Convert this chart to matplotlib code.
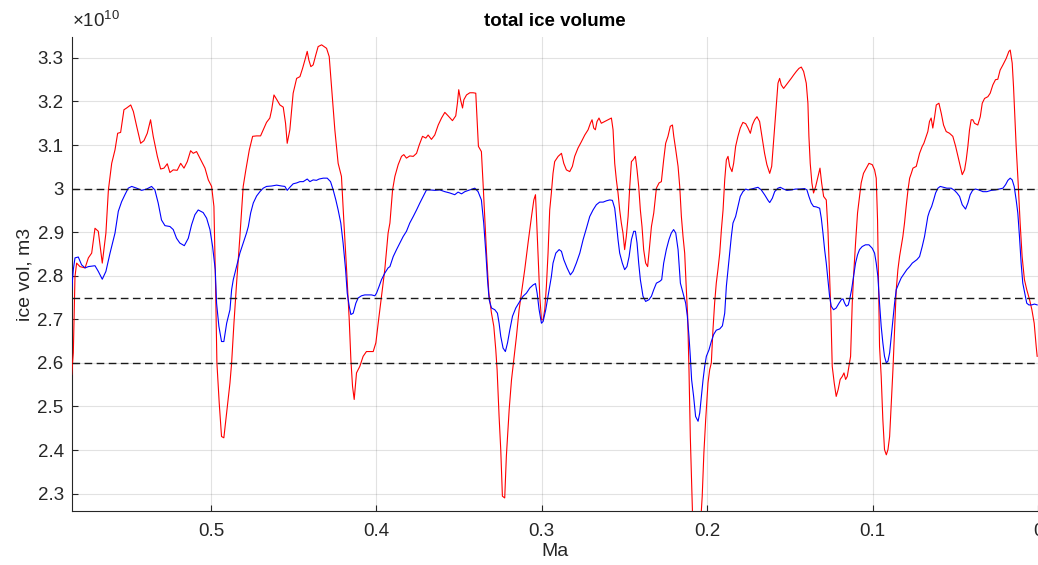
import matplotlib
matplotlib.use("Agg")
import matplotlib.pyplot as plt
from matplotlib.ticker import FuncFormatter

plt.rcParams['font.family'] = ['Liberation Sans', 'DejaVu Sans']
plt.rcParams['mathtext.fontset'] = 'custom'
plt.rcParams['mathtext.rm'] = 'Liberation Sans'

# ---- data (age in Ma, ice volume in units of 1e10 m3) ----
red_age = [0.5842, 0.5832, 0.5822, 0.5812, 0.5792, 0.5761, 0.5741, 0.5721, 0.5701, 0.5681,
           0.5657, 0.5635, 0.5620, 0.5600, 0.5580, 0.5564, 0.5546, 0.5526, 0.5510, 0.5485,
           0.5469, 0.5449, 0.5425, 0.5405, 0.5385, 0.5365, 0.5349, 0.5324, 0.5304, 0.5284,
           0.5264, 0.5248, 0.5228, 0.5204, 0.5183, 0.5163, 0.5143, 0.5123, 0.5107, 0.5087,
           0.5056, 0.5036, 0.5016, 0.4996, 0.4982, 0.4972, 0.4964, 0.4950, 0.4936, 0.4922,
           0.4905,
           0.4885, 0.4875, 0.4861, 0.4845, 0.4825, 0.4805, 0.4789, 0.4768, 0.4748, 0.4724,
           0.4700, 0.4684, 0.4664, 0.4644, 0.4633, 0.4619, 0.4603, 0.4583, 0.4563, 0.4549,
           0.4539, 0.4523, 0.4503, 0.4482, 0.4462, 0.4446, 0.4432, 0.4418, 0.4408, 0.4396,
           0.4382, 0.4366, 0.4352, 0.4331, 0.4301, 0.4285, 0.4271, 0.4251, 0.4231, 0.4211,
           0.4196, 0.4180, 0.4164, 0.4154, 0.4144, 0.4134, 0.4120, 0.4100, 0.4080, 0.4060,
           0.4039, 0.4019, 0.4003, 0.3989, 0.3969, 0.3949, 0.3929,
           0.3918, 0.3902, 0.3888, 0.3868, 0.3848, 0.3834, 0.3818, 0.3798, 0.3777, 0.3757,
           0.3741, 0.3721, 0.3701, 0.3687, 0.3667, 0.3647, 0.3626, 0.3606, 0.3586, 0.3566,
           0.3540, 0.3520, 0.3510, 0.3502, 0.3491, 0.3479, 0.3471, 0.3455, 0.3435, 0.3415,
           0.3399, 0.3391, 0.3383, 0.3365, 0.3355, 0.3344, 0.3334, 0.3320, 0.3304, 0.3290,
           0.3278, 0.3270, 0.3258, 0.3248, 0.3238, 0.3224, 0.3214, 0.3197, 0.3183, 0.3169,
           0.3153, 0.3137, 0.3123, 0.3103, 0.3083, 0.3062, 0.3048, 0.3038, 0.3032, 0.3022,
           0.3012, 0.3002, 0.2992, 0.2982, 0.2972, 0.2962, 0.2952,
           0.2942, 0.2932, 0.2922, 0.2901, 0.2881, 0.2867, 0.2851, 0.2831, 0.2815, 0.2801,
           0.2781, 0.2760, 0.2740, 0.2720, 0.2706, 0.2696, 0.2686, 0.2676, 0.2666, 0.2654,
           0.2640, 0.2620, 0.2599, 0.2579, 0.2569, 0.2559, 0.2549, 0.2539, 0.2529, 0.2519,
           0.2509, 0.2499, 0.2489, 0.2478, 0.2468, 0.2458, 0.2448, 0.2434, 0.2424, 0.2414,
           0.2404, 0.2394, 0.2384, 0.2372, 0.2360, 0.2352, 0.2337, 0.2323, 0.2307, 0.2291,
           0.2277, 0.2263, 0.2251, 0.2237, 0.2223, 0.2210, 0.2202, 0.2190, 0.2176, 0.2166,
           0.2156, 0.2146, 0.2136, 0.2126, 0.2118, 0.2110, 0.2102, 0.2094, 0.2086, 0.2062,
           0.2042, 0.2030, 0.2020, 0.2009, 0.1995, 0.1985,
           0.1975, 0.1965, 0.1955, 0.1945, 0.1935, 0.1924, 0.1914, 0.1904, 0.1894, 0.1884,
           0.1874, 0.1864, 0.1850, 0.1840, 0.1828, 0.1814, 0.1800, 0.1784, 0.1767, 0.1753,
           0.1739, 0.1727, 0.1713, 0.1699, 0.1683, 0.1669, 0.1653, 0.1639, 0.1622, 0.1610,
           0.1598, 0.1586, 0.1572, 0.1562, 0.1552, 0.1538, 0.1522, 0.1506, 0.1492, 0.1477,
           0.1461, 0.1445, 0.1431, 0.1417, 0.1401, 0.1391, 0.1385, 0.1377, 0.1367, 0.1357,
           0.1344, 0.1330, 0.1318, 0.1308, 0.1296, 0.1280, 0.1270, 0.1260, 0.1252, 0.1244,
           0.1232, 0.1220, 0.1208, 0.1196, 0.1183, 0.1173, 0.1163, 0.1153, 0.1143, 0.1133,
           0.1123, 0.1115, 0.1103, 0.1091, 0.1079, 0.1069, 0.1055, 0.1038, 0.1022,
           0.1002, 0.0988, 0.0978, 0.0970, 0.0964, 0.0958, 0.0948, 0.0938, 0.0928, 0.0917,
           0.0907, 0.0897, 0.0887, 0.0877, 0.0867, 0.0857, 0.0847, 0.0837, 0.0827, 0.0817,
           0.0807, 0.0797, 0.0786, 0.0776, 0.0766, 0.0756, 0.0736, 0.0726, 0.0716, 0.0700,
           0.0690, 0.0676, 0.0666, 0.0656, 0.0646, 0.0636, 0.0625, 0.0615, 0.0599, 0.0585,
           0.0571, 0.0555, 0.0535, 0.0515, 0.0498, 0.0484, 0.0470, 0.0458, 0.0444, 0.0434,
           0.0424, 0.0414, 0.0404, 0.0394, 0.0384, 0.0364, 0.0349, 0.0337, 0.0323, 0.0303,
           0.0289, 0.0273, 0.0257, 0.0243, 0.0229, 0.0212, 0.0192, 0.0176, 0.0168, 0.0156,
           0.0148, 0.0140, 0.0132, 0.0120, 0.0108, 0.0096, 0.0082, 0.0068, 0.0051, 0.0037,
           0.0023, 0.0011, 0.0005]
red_vol = [2.573, 2.623, 2.798, 2.829, 2.821, 2.818, 2.841, 2.852, 2.909, 2.902,
           2.829, 2.898, 2.997, 3.058, 3.089, 3.127, 3.129, 3.181, 3.185, 3.192,
           3.177, 3.143, 3.104, 3.110, 3.127, 3.158, 3.120, 3.074, 3.045, 3.047,
           3.057, 3.037, 3.043, 3.042, 3.058, 3.047, 3.062, 3.087, 3.081, 3.085,
           3.062, 3.047, 3.020, 3.005, 2.959, 2.776, 2.600, 2.508, 2.431, 2.428,
           2.485,
           2.554, 2.600, 2.691, 2.783, 2.890, 3.005, 3.043, 3.089, 3.120, 3.121,
           3.121, 3.135, 3.152, 3.162, 3.181, 3.215, 3.205, 3.192, 3.187, 3.150,
           3.104, 3.135, 3.219, 3.253, 3.257, 3.276, 3.295, 3.315, 3.295, 3.280,
           3.284, 3.307, 3.326, 3.330, 3.322, 3.303, 3.234, 3.135, 3.058, 3.028,
           2.921, 2.814, 2.699, 2.607, 2.546, 2.516, 2.577, 2.592, 2.615, 2.626,
           2.626, 2.626, 2.646, 2.691, 2.753, 2.814, 2.898,
           2.921, 2.997, 3.028, 3.055, 3.074, 3.078, 3.070, 3.075, 3.074, 3.081,
           3.100, 3.120, 3.116, 3.123, 3.113, 3.123, 3.146, 3.162, 3.175, 3.167,
           3.156, 3.167, 3.196, 3.227, 3.204, 3.185, 3.204, 3.215, 3.220, 3.220,
           3.219, 3.158, 3.097, 3.085, 3.013, 2.928, 2.852, 2.760, 2.714, 2.684,
           2.630, 2.584, 2.477, 2.401, 2.294, 2.290, 2.386, 2.493, 2.561, 2.607,
           2.661, 2.722, 2.760, 2.814, 2.875, 2.936, 2.974, 2.986, 2.936, 2.844,
           2.753, 2.699, 2.699, 2.722, 2.776, 2.852, 2.951,
           2.990, 3.035, 3.062, 3.074, 3.081, 3.058, 3.043, 3.039, 3.051, 3.074,
           3.093, 3.108, 3.123, 3.135, 3.150, 3.158, 3.139, 3.135, 3.154, 3.162,
           3.150, 3.154, 3.158, 3.162, 3.135, 3.058, 3.020, 2.990, 2.951, 2.921,
           2.898, 2.860, 2.890, 2.936, 3.005, 3.062, 3.066, 3.074, 3.043, 3.005,
           2.951, 2.913, 2.860, 2.829, 2.821, 2.852, 2.913, 2.944, 3.001, 3.013,
           3.016, 3.066, 3.104, 3.120, 3.143, 3.146, 3.120, 3.089, 3.051, 3.005,
           2.936, 2.890, 2.852, 2.768, 2.707, 2.584, 2.431, 2.325, 2.218, 2.180,
           2.218, 2.294, 2.393, 2.470, 2.554, 2.584,
           2.600, 2.676, 2.737, 2.783, 2.814, 2.852, 2.906, 2.951, 3.020, 3.066,
           3.074, 3.051, 3.039, 3.058, 3.097, 3.120, 3.139, 3.152, 3.149, 3.139,
           3.127, 3.146, 3.158, 3.165, 3.154, 3.120, 3.081, 3.055, 3.035, 3.051,
           3.112, 3.173, 3.242, 3.253, 3.238, 3.230, 3.238, 3.246, 3.253, 3.261,
           3.269, 3.276, 3.279, 3.269, 3.242, 3.196, 3.120, 3.058, 3.013, 2.990,
           3.005, 3.028, 3.047, 3.013, 2.982, 2.974, 2.906, 2.799, 2.714, 2.592,
           2.554, 2.523, 2.539, 2.562, 2.569, 2.577, 2.562, 2.569, 2.592, 2.615,
           2.737, 2.799, 2.875, 2.944, 2.982, 3.013, 3.035, 3.047, 3.058,
           3.055, 3.043, 3.024, 2.928, 2.776, 2.638, 2.569, 2.470, 2.401, 2.389,
           2.401, 2.431, 2.508, 2.584, 2.676, 2.768, 2.814, 2.844, 2.867, 2.890,
           2.921, 2.959, 2.997, 3.024, 3.035, 3.047, 3.051, 3.066, 3.081, 3.097,
           3.104, 3.120, 3.131, 3.154, 3.162, 3.139, 3.165, 3.192, 3.196, 3.173,
           3.146, 3.131, 3.127, 3.120, 3.097, 3.074, 3.051, 3.032, 3.043, 3.066,
           3.097, 3.135, 3.158, 3.158, 3.150, 3.146, 3.165, 3.196, 3.207, 3.211,
           3.219, 3.238, 3.250, 3.251, 3.272, 3.284, 3.299, 3.315, 3.318, 3.288,
           3.234, 3.165, 3.097, 3.013, 2.921, 2.844, 2.791, 2.768, 2.745, 2.722,
           2.691, 2.638, 2.615]

blue_age = [0.5842, 0.5832, 0.5822, 0.5802, 0.5782, 0.5761, 0.5741, 0.5701, 0.5681, 0.5657,
            0.5635, 0.5610, 0.5580, 0.5560, 0.5540, 0.5520, 0.5500, 0.5479, 0.5449, 0.5419,
            0.5389, 0.5359, 0.5339, 0.5319, 0.5299, 0.5278, 0.5248, 0.5228, 0.5208, 0.5188,
            0.5161, 0.5137, 0.5117, 0.5097, 0.5077, 0.5047, 0.5026, 0.5006, 0.4990, 0.4974,
            0.4966, 0.4952, 0.4936, 0.4922, 0.4905,
            0.4885, 0.4875, 0.4865, 0.4845, 0.4825, 0.4805, 0.4785, 0.4774, 0.4760, 0.4744,
            0.4724, 0.4704, 0.4684, 0.4664, 0.4633, 0.4603, 0.4573, 0.4553, 0.4539, 0.4523,
            0.4503, 0.4482, 0.4462, 0.4442, 0.4418, 0.4402, 0.4382, 0.4362, 0.4346, 0.4321,
            0.4297, 0.4277, 0.4261, 0.4245, 0.4231, 0.4215, 0.4201, 0.4186, 0.4176, 0.4164,
            0.4154, 0.4140, 0.4124, 0.4110, 0.4090, 0.4070, 0.4049, 0.4029, 0.4009, 0.3999,
            0.3983, 0.3969, 0.3949, 0.3929,
            0.3918, 0.3898, 0.3878, 0.3858, 0.3838, 0.3818, 0.3798, 0.3777, 0.3757, 0.3737,
            0.3717, 0.3697, 0.3677, 0.3647, 0.3616, 0.3586, 0.3556, 0.3526, 0.3506, 0.3485,
            0.3465, 0.3435, 0.3405, 0.3385, 0.3365, 0.3351, 0.3338, 0.3328, 0.3318, 0.3304,
            0.3284, 0.3268, 0.3258, 0.3248, 0.3234, 0.3220, 0.3207, 0.3193, 0.3177, 0.3157,
            0.3133, 0.3113, 0.3093, 0.3072, 0.3052, 0.3038, 0.3028, 0.3016, 0.3002, 0.2992,
            0.2976, 0.2962, 0.2952,
            0.2942, 0.2932, 0.2915, 0.2895, 0.2881, 0.2867, 0.2847, 0.2827, 0.2811, 0.2791,
            0.2770, 0.2750, 0.2730, 0.2710, 0.2690, 0.2670, 0.2650, 0.2629, 0.2609, 0.2589,
            0.2573, 0.2559, 0.2549, 0.2539, 0.2529, 0.2513, 0.2499, 0.2485, 0.2472, 0.2458,
            0.2444, 0.2434, 0.2424, 0.2414, 0.2404, 0.2388, 0.2372, 0.2352, 0.2337, 0.2323,
            0.2307, 0.2287, 0.2275, 0.2263, 0.2247, 0.2231, 0.2217, 0.2203, 0.2190, 0.2176,
            0.2162, 0.2146, 0.2130, 0.2120, 0.2110, 0.2102, 0.2094, 0.2082, 0.2070, 0.2055,
            0.2045, 0.2035, 0.2025, 0.2015, 0.2005, 0.1989,
            0.1975, 0.1961, 0.1945, 0.1924, 0.1908, 0.1894, 0.1884, 0.1874, 0.1864, 0.1854,
            0.1844, 0.1828, 0.1814, 0.1800, 0.1784, 0.1767, 0.1753, 0.1733, 0.1713, 0.1693,
            0.1673, 0.1653, 0.1632, 0.1622, 0.1606, 0.1592, 0.1572, 0.1558, 0.1538, 0.1518,
            0.1492, 0.1465, 0.1441, 0.1411, 0.1397, 0.1385, 0.1371, 0.1357, 0.1340, 0.1320,
            0.1310, 0.1300, 0.1290, 0.1280, 0.1270, 0.1260, 0.1250, 0.1236, 0.1220, 0.1203,
            0.1189, 0.1179, 0.1169, 0.1159, 0.1147, 0.1139, 0.1127, 0.1115, 0.1103, 0.1091,
            0.1079, 0.1063, 0.1043, 0.1022,
            0.1002, 0.0988, 0.0978, 0.0968, 0.0958, 0.0948, 0.0938, 0.0928, 0.0917, 0.0907,
            0.0897, 0.0887, 0.0877, 0.0867, 0.0857, 0.0841, 0.0827, 0.0807, 0.0793, 0.0776,
            0.0760, 0.0746, 0.0732, 0.0716, 0.0700, 0.0686, 0.0676, 0.0666, 0.0656, 0.0643,
            0.0631, 0.0619, 0.0605, 0.0591, 0.0571, 0.0551, 0.0525, 0.0505, 0.0490, 0.0474,
            0.0458, 0.0438, 0.0424, 0.0410, 0.0394, 0.0378, 0.0358, 0.0333, 0.0309, 0.0283,
            0.0257, 0.0233, 0.0212, 0.0196, 0.0182, 0.0168, 0.0156, 0.0144, 0.0132, 0.0122,
            0.0112, 0.0102, 0.0092, 0.0080, 0.0068, 0.0055, 0.0039, 0.0021, 0.0005]
blue_vol = [2.768, 2.814, 2.841, 2.843, 2.825, 2.818, 2.821, 2.823, 2.810, 2.792,
            2.810, 2.852, 2.898, 2.948, 2.970, 2.986, 3.001, 3.005, 3.001, 2.996,
            2.999, 3.005, 2.997, 2.967, 2.928, 2.915, 2.913, 2.906, 2.886, 2.875,
            2.869, 2.886, 2.917, 2.940, 2.951, 2.945, 2.932, 2.906, 2.867, 2.814,
            2.737, 2.684, 2.649, 2.649, 2.691,
            2.722, 2.768, 2.791, 2.821, 2.852, 2.875, 2.898, 2.913, 2.944, 2.967,
            2.983, 2.993, 3.001, 3.005, 3.006, 3.008, 3.006, 3.005, 2.996, 3.003,
            3.011, 3.013, 3.016, 3.016, 3.022, 3.016, 3.020, 3.019, 3.022, 3.024,
            3.024, 3.016, 2.997, 2.974, 2.951, 2.921, 2.875, 2.814, 2.760, 2.730,
            2.711, 2.714, 2.737, 2.749, 2.754, 2.756, 2.756, 2.756, 2.754, 2.760,
            2.776, 2.791, 2.806, 2.818,
            2.821, 2.844, 2.860, 2.875, 2.890, 2.902, 2.921, 2.936, 2.951, 2.967,
            2.982, 2.997, 2.997, 2.996, 2.997, 2.993, 2.990, 2.986, 2.992, 2.988,
            2.993, 2.997, 3.001, 2.993, 2.974, 2.921, 2.852, 2.791, 2.745, 2.726,
            2.722, 2.714, 2.691, 2.661, 2.634, 2.626, 2.646, 2.676, 2.707, 2.726,
            2.741, 2.753, 2.760, 2.772, 2.779, 2.782, 2.760, 2.722, 2.691, 2.695,
            2.722, 2.753, 2.776,
            2.798, 2.829, 2.852, 2.860, 2.856, 2.837, 2.818, 2.802, 2.810, 2.829,
            2.852, 2.883, 2.909, 2.936, 2.951, 2.963, 2.969, 2.969, 2.972, 2.974,
            2.973, 2.955, 2.921, 2.883, 2.852, 2.829, 2.814, 2.821, 2.844, 2.883,
            2.902, 2.902, 2.875, 2.829, 2.791, 2.753, 2.741, 2.745, 2.753, 2.768,
            2.783, 2.787, 2.791, 2.829, 2.860, 2.883, 2.898, 2.906, 2.898, 2.860,
            2.783, 2.760, 2.737, 2.707, 2.661, 2.615, 2.561, 2.523, 2.477, 2.466,
            2.485, 2.523, 2.561, 2.592, 2.615, 2.630,
            2.649, 2.665, 2.675, 2.678, 2.685, 2.714, 2.776, 2.814, 2.852, 2.890,
            2.921, 2.936, 2.959, 2.982, 2.993, 2.999, 2.997, 2.999, 3.001, 3.003,
            2.997, 2.986, 2.973, 2.968, 2.978, 2.993, 3.001, 3.003, 2.999, 2.996,
            2.997, 2.999, 2.999, 3.000, 2.997, 2.982, 2.967, 2.959, 2.958, 2.955,
            2.932, 2.898, 2.860, 2.829, 2.791, 2.753, 2.730, 2.722, 2.726, 2.737,
            2.745, 2.747, 2.737, 2.730, 2.733, 2.745, 2.768, 2.799, 2.829, 2.848,
            2.860, 2.867, 2.871, 2.871,
            2.863, 2.852, 2.829, 2.798, 2.737, 2.684, 2.646, 2.615, 2.600, 2.604,
            2.623, 2.661, 2.699, 2.737, 2.768, 2.783, 2.795, 2.806, 2.814, 2.821,
            2.829, 2.833, 2.837, 2.844, 2.867, 2.890, 2.913, 2.936, 2.948, 2.959,
            2.974, 2.990, 3.001, 3.005, 3.003, 3.001, 3.001, 2.996, 2.990, 2.982,
            2.963, 2.953, 2.967, 2.986, 2.997, 2.999, 2.997, 2.993, 2.993, 2.996,
            2.997, 2.999, 3.001, 3.009, 3.019, 3.024, 3.020, 3.005, 2.974, 2.944,
            2.890, 2.829, 2.783, 2.760, 2.737, 2.733, 2.733, 2.735, 2.733]

threshold_levels = [3.0, 2.75, 2.6]
x_ticks = [0.5, 0.4, 0.3, 0.2, 0.1, 0.0]
y_ticks = [2.3, 2.4, 2.5, 2.6, 2.7, 2.8, 2.9, 3.0, 3.1, 3.2, 3.3]

# ---- figure ----
fig = plt.figure(figsize=(10.38, 5.65), dpi=100)
ax = fig.add_axes([72/1038, 1 - 511/565, (1038 - 72)/1038, (511 - 37)/565])

ax.plot(red_age, red_vol, color=(1, 0, 0), lw=0.8, zorder=3)
ax.plot(blue_age, blue_vol, color=(0, 0, 1), lw=0.8, zorder=3)
for lev in threshold_levels:
    ax.axhline(lev, color=(0.1, 0.1, 0.1), lw=1.0, linestyle=(0, (5.5, 3.2)), zorder=4)

ax.set_xlim(0.584, 0.0)
ax.set_ylim(2.26, 3.348)
ax.set_xticks(x_ticks)
ax.set_yticks(y_ticks)
fmt = FuncFormatter(lambda v, p: '%g' % round(v, 3))
ax.xaxis.set_major_formatter(fmt)
ax.yaxis.set_major_formatter(fmt)

ax.grid(True, color=(0.15, 0.15, 0.15), alpha=0.13, lw=0.8)
ax.set_axisbelow(True)
for s in ['top', 'right']:
    ax.spines[s].set_visible(False)
for s in ['left', 'bottom']:
    ax.spines[s].set_color((0.15, 0.15, 0.15))
    ax.spines[s].set_linewidth(0.8)
ax.tick_params(direction='in', length=4, width=0.8, colors=(0.15, 0.15, 0.15),
               labelsize=13.5, pad=6)
ax.tick_params(axis='x', pad=9)

ax.set_title('total ice volume', fontsize=13.5, fontweight='bold', color='black', pad=8)
ax.set_xlabel('Ma', fontsize=14, color=(0.15, 0.15, 0.15), labelpad=2)
ax.set_ylabel('ice vol, m3', fontsize=14, color=(0.15, 0.15, 0.15), labelpad=3)
ax.text(0.0, 1.012, r'$\mathregular{\times10^{10}}$', transform=ax.transAxes,
        fontsize=13.5, color=(0.15, 0.15, 0.15), ha='left', va='bottom')

fig.savefig('out.png', dpi=100)
